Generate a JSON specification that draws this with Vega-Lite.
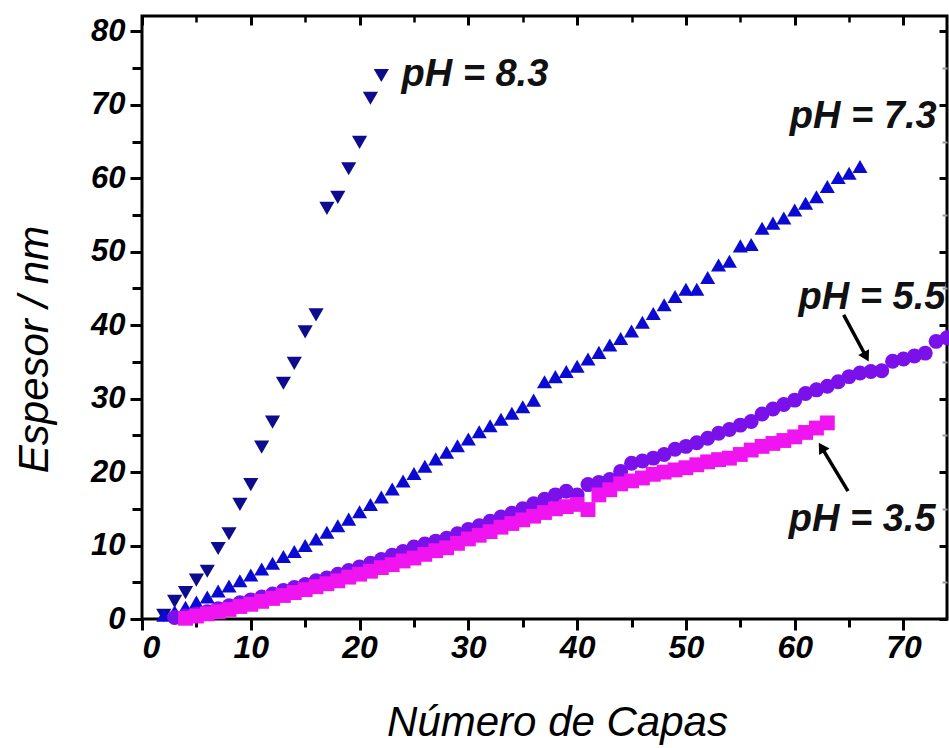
{
  "$schema": "https://vega.github.io/schema/vega-lite/v6.json",
  "autosize": "none",
  "width": 805,
  "height": 603,
  "padding": {"left": 142, "top": 16, "right": 2, "bottom": 129},
  "background": "white",
  "config": {"view": {"stroke": "black", "strokeWidth": 3}},
  "datasets": {
    "pts": [
      {"serie":"8.3","capas":2,"espesor":0.5},{"serie":"8.3","capas":3,"espesor":2.4},{"serie":"8.3","capas":4,"espesor":3.6},{"serie":"8.3","capas":5,"espesor":5.3},{"serie":"8.3","capas":6,"espesor":6.5},{"serie":"8.3","capas":7,"espesor":9.6},{"serie":"8.3","capas":8,"espesor":11.6},{"serie":"8.3","capas":9,"espesor":15.6},{"serie":"8.3","capas":10,"espesor":18.3},{"serie":"8.3","capas":11,"espesor":23.4},{"serie":"8.3","capas":12,"espesor":26.8},{"serie":"8.3","capas":13,"espesor":32.1},{"serie":"8.3","capas":14,"espesor":34.8},{"serie":"8.3","capas":15,"espesor":39.1},{"serie":"8.3","capas":16,"espesor":41.4},{"serie":"8.3","capas":17,"espesor":55.9},{"serie":"8.3","capas":18,"espesor":57.4},{"serie":"8.3","capas":19,"espesor":61.3},{"serie":"8.3","capas":20,"espesor":64.9},{"serie":"8.3","capas":21,"espesor":70.9},{"serie":"8.3","capas":22,"espesor":74.0},
      {"serie":"7.3","capas":2,"espesor":0.5},{"serie":"7.3","capas":3,"espesor":1.0},{"serie":"7.3","capas":4,"espesor":1.6},{"serie":"7.3","capas":5,"espesor":2.3},{"serie":"7.3","capas":6,"espesor":3.0},{"serie":"7.3","capas":7,"espesor":3.8},{"serie":"7.3","capas":8,"espesor":4.5},{"serie":"7.3","capas":9,"espesor":5.2},{"serie":"7.3","capas":10,"espesor":6.0},{"serie":"7.3","capas":11,"espesor":6.8},{"serie":"7.3","capas":12,"espesor":7.6},{"serie":"7.3","capas":13,"espesor":8.5},{"serie":"7.3","capas":14,"espesor":9.2},{"serie":"7.3","capas":15,"espesor":10.0},{"serie":"7.3","capas":16,"espesor":10.9},{"serie":"7.3","capas":17,"espesor":11.8},{"serie":"7.3","capas":18,"espesor":12.7},{"serie":"7.3","capas":19,"espesor":13.6},{"serie":"7.3","capas":20,"espesor":14.6},{"serie":"7.3","capas":21,"espesor":15.6},{"serie":"7.3","capas":22,"espesor":16.6},{"serie":"7.3","capas":23,"espesor":17.7},{"serie":"7.3","capas":24,"espesor":18.8},{"serie":"7.3","capas":25,"espesor":19.8},{"serie":"7.3","capas":26,"espesor":20.8},{"serie":"7.3","capas":27,"espesor":21.8},{"serie":"7.3","capas":28,"espesor":22.7},{"serie":"7.3","capas":29,"espesor":23.6},{"serie":"7.3","capas":30,"espesor":24.5},{"serie":"7.3","capas":31,"espesor":25.5},{"serie":"7.3","capas":32,"espesor":26.3},{"serie":"7.3","capas":33,"espesor":27.2},{"serie":"7.3","capas":34,"espesor":28.0},{"serie":"7.3","capas":35,"espesor":28.9},{"serie":"7.3","capas":36,"espesor":29.8},{"serie":"7.3","capas":37,"espesor":32.3},{"serie":"7.3","capas":38,"espesor":33.0},{"serie":"7.3","capas":39,"espesor":33.7},{"serie":"7.3","capas":40,"espesor":34.4},{"serie":"7.3","capas":41,"espesor":35.4},{"serie":"7.3","capas":42,"espesor":36.3},{"serie":"7.3","capas":43,"espesor":37.3},{"serie":"7.3","capas":44,"espesor":38.2},{"serie":"7.3","capas":45,"espesor":39.2},{"serie":"7.3","capas":46,"espesor":40.4},{"serie":"7.3","capas":47,"espesor":41.6},{"serie":"7.3","capas":48,"espesor":42.8},{"serie":"7.3","capas":49,"espesor":43.9},{"serie":"7.3","capas":50,"espesor":44.9},{"serie":"7.3","capas":51,"espesor":44.9},{"serie":"7.3","capas":52,"espesor":46.5},{"serie":"7.3","capas":53,"espesor":48.2},{"serie":"7.3","capas":54,"espesor":48.7},{"serie":"7.3","capas":55,"espesor":50.8},{"serie":"7.3","capas":56,"espesor":51.0},{"serie":"7.3","capas":57,"espesor":53.2},{"serie":"7.3","capas":58,"espesor":53.9},{"serie":"7.3","capas":59,"espesor":54.6},{"serie":"7.3","capas":60,"espesor":55.7},{"serie":"7.3","capas":61,"espesor":56.6},{"serie":"7.3","capas":62,"espesor":57.5},{"serie":"7.3","capas":63,"espesor":58.9},{"serie":"7.3","capas":64,"espesor":60.1},{"serie":"7.3","capas":65,"espesor":60.7},{"serie":"7.3","capas":66,"espesor":61.6},
      {"serie":"5.5","capas":3,"espesor":0.2},{"serie":"5.5","capas":4,"espesor":0.4},{"serie":"5.5","capas":5,"espesor":0.7},{"serie":"5.5","capas":6,"espesor":1.0},{"serie":"5.5","capas":7,"espesor":1.4},{"serie":"5.5","capas":8,"espesor":1.8},{"serie":"5.5","capas":9,"espesor":2.2},{"serie":"5.5","capas":10,"espesor":2.6},{"serie":"5.5","capas":11,"espesor":3.0},{"serie":"5.5","capas":12,"espesor":3.4},{"serie":"5.5","capas":13,"espesor":3.9},{"serie":"5.5","capas":14,"espesor":4.3},{"serie":"5.5","capas":15,"espesor":4.7},{"serie":"5.5","capas":16,"espesor":5.2},{"serie":"5.5","capas":17,"espesor":5.6},{"serie":"5.5","capas":18,"espesor":6.1},{"serie":"5.5","capas":19,"espesor":6.6},{"serie":"5.5","capas":20,"espesor":7.1},{"serie":"5.5","capas":21,"espesor":7.6},{"serie":"5.5","capas":22,"espesor":8.1},{"serie":"5.5","capas":23,"espesor":8.7},{"serie":"5.5","capas":24,"espesor":9.2},{"serie":"5.5","capas":25,"espesor":9.8},{"serie":"5.5","capas":26,"espesor":10.2},{"serie":"5.5","capas":27,"espesor":10.6},{"serie":"5.5","capas":28,"espesor":11.0},{"serie":"5.5","capas":29,"espesor":11.6},{"serie":"5.5","capas":30,"espesor":12.2},{"serie":"5.5","capas":31,"espesor":12.7},{"serie":"5.5","capas":32,"espesor":13.3},{"serie":"5.5","capas":33,"espesor":13.9},{"serie":"5.5","capas":34,"espesor":14.4},{"serie":"5.5","capas":35,"espesor":15.0},{"serie":"5.5","capas":36,"espesor":15.7},{"serie":"5.5","capas":37,"espesor":16.3},{"serie":"5.5","capas":38,"espesor":16.9},{"serie":"5.5","capas":39,"espesor":17.4},{"serie":"5.5","capas":40,"espesor":16.9},{"serie":"5.5","capas":41,"espesor":18.3},{"serie":"5.5","capas":42,"espesor":18.6},{"serie":"5.5","capas":43,"espesor":19.0},{"serie":"5.5","capas":44,"espesor":20.1},{"serie":"5.5","capas":45,"espesor":21.2},{"serie":"5.5","capas":46,"espesor":21.5},{"serie":"5.5","capas":47,"espesor":21.9},{"serie":"5.5","capas":48,"espesor":22.4},{"serie":"5.5","capas":49,"espesor":23.1},{"serie":"5.5","capas":50,"espesor":23.5},{"serie":"5.5","capas":51,"espesor":24.0},{"serie":"5.5","capas":52,"espesor":24.6},{"serie":"5.5","capas":53,"espesor":25.3},{"serie":"5.5","capas":54,"espesor":25.8},{"serie":"5.5","capas":55,"espesor":26.4},{"serie":"5.5","capas":56,"espesor":26.9},{"serie":"5.5","capas":57,"espesor":27.9},{"serie":"5.5","capas":58,"espesor":28.6},{"serie":"5.5","capas":59,"espesor":29.2},{"serie":"5.5","capas":60,"espesor":29.8},{"serie":"5.5","capas":61,"espesor":30.7},{"serie":"5.5","capas":62,"espesor":31.2},{"serie":"5.5","capas":63,"espesor":31.7},{"serie":"5.5","capas":64,"espesor":32.3},{"serie":"5.5","capas":65,"espesor":33.0},{"serie":"5.5","capas":66,"espesor":33.5},{"serie":"5.5","capas":67,"espesor":33.7},{"serie":"5.5","capas":68,"espesor":33.8},{"serie":"5.5","capas":69,"espesor":35.1},{"serie":"5.5","capas":70,"espesor":35.4},{"serie":"5.5","capas":71,"espesor":35.8},{"serie":"5.5","capas":72,"espesor":36.2},{"serie":"5.5","capas":73,"espesor":37.8},{"serie":"5.5","capas":74,"espesor":38.3},
      {"serie":"3.5","capas":4,"espesor":0.1},{"serie":"3.5","capas":5,"espesor":0.4},{"serie":"3.5","capas":6,"espesor":0.7},{"serie":"3.5","capas":7,"espesor":1.0},{"serie":"3.5","capas":8,"espesor":1.3},{"serie":"3.5","capas":9,"espesor":1.7},{"serie":"3.5","capas":10,"espesor":2.0},{"serie":"3.5","capas":11,"espesor":2.4},{"serie":"3.5","capas":12,"espesor":2.8},{"serie":"3.5","capas":13,"espesor":3.2},{"serie":"3.5","capas":14,"espesor":3.6},{"serie":"3.5","capas":15,"espesor":4.0},{"serie":"3.5","capas":16,"espesor":4.4},{"serie":"3.5","capas":17,"espesor":4.8},{"serie":"3.5","capas":18,"espesor":5.2},{"serie":"3.5","capas":19,"espesor":5.7},{"serie":"3.5","capas":20,"espesor":6.1},{"serie":"3.5","capas":21,"espesor":6.5},{"serie":"3.5","capas":22,"espesor":7.0},{"serie":"3.5","capas":23,"espesor":7.4},{"serie":"3.5","capas":24,"espesor":7.9},{"serie":"3.5","capas":25,"espesor":8.3},{"serie":"3.5","capas":26,"espesor":8.8},{"serie":"3.5","capas":27,"espesor":9.3},{"serie":"3.5","capas":28,"espesor":9.7},{"serie":"3.5","capas":29,"espesor":10.3},{"serie":"3.5","capas":30,"espesor":10.9},{"serie":"3.5","capas":31,"espesor":11.4},{"serie":"3.5","capas":32,"espesor":11.9},{"serie":"3.5","capas":33,"espesor":12.5},{"serie":"3.5","capas":34,"espesor":13.0},{"serie":"3.5","capas":35,"espesor":13.5},{"serie":"3.5","capas":36,"espesor":14.0},{"serie":"3.5","capas":37,"espesor":14.5},{"serie":"3.5","capas":38,"espesor":15.0},{"serie":"3.5","capas":39,"espesor":15.3},{"serie":"3.5","capas":40,"espesor":15.6},{"serie":"3.5","capas":41,"espesor":14.9},{"serie":"3.5","capas":42,"espesor":16.9},{"serie":"3.5","capas":43,"espesor":17.6},{"serie":"3.5","capas":44,"espesor":18.4},{"serie":"3.5","capas":45,"espesor":18.8},{"serie":"3.5","capas":46,"espesor":19.2},{"serie":"3.5","capas":47,"espesor":19.7},{"serie":"3.5","capas":48,"espesor":20.0},{"serie":"3.5","capas":49,"espesor":20.3},{"serie":"3.5","capas":50,"espesor":20.6},{"serie":"3.5","capas":51,"espesor":21.0},{"serie":"3.5","capas":52,"espesor":21.4},{"serie":"3.5","capas":53,"espesor":21.7},{"serie":"3.5","capas":54,"espesor":21.9},{"serie":"3.5","capas":55,"espesor":22.4},{"serie":"3.5","capas":56,"espesor":23.0},{"serie":"3.5","capas":57,"espesor":23.5},{"serie":"3.5","capas":58,"espesor":23.9},{"serie":"3.5","capas":59,"espesor":24.3},{"serie":"3.5","capas":60,"espesor":24.8},{"serie":"3.5","capas":61,"espesor":25.4},{"serie":"3.5","capas":62,"espesor":26.0},{"serie":"3.5","capas":63,"espesor":26.7}
    ],
    "labels": [
      {"label":"pH = 8.3","capas":30.6,"espesor":74.0},
      {"label":"pH = 7.3","capas":66.3,"espesor":68.4},
      {"label":"pH = 5.5","capas":67.1,"espesor":43.7},
      {"label":"pH = 3.5","capas":66.2,"espesor":13.5}
    ],
    "arrows": [
      {"serie":"5.5","capas":64.5,"espesor":41.4,"capas2":66.57,"espesor2":35.7},
      {"serie":"3.5","capas":64.9,"espesor":17.4,"capas2":62.47,"espesor2":23.37}
    ]
  },
  "layer": [
    {
      "data": {"name": "pts"},
      "mark": {"type": "point", "filled": true, "opacity": 1},
      "encoding": {
        "x": {"field": "capas", "type": "quantitative", "scale": {"domain": [0, 74], "nice": false, "zero": false},
          "axis": {"orient": "bottom", "values": [0,10,20,30,40,50,60,70], "tickSize": 11, "tickWidth": 3, "tickColor": "black", "domain": false, "grid": false,
            "labelFont": "Liberation Sans", "labelFontSize": 32, "labelFontWeight": "bold", "labelFontStyle": "italic", "labelColor": "black", "labelPadding": 2,
            "title": "Número de Capas", "titleFont": "Liberation Sans", "titleFontSize": 42, "titleFontWeight": "normal", "titleFontStyle": "italic", "titleColor": "black",
            "titleX": 415, "titleY": 116, "titleAlign": "center", "titleBaseline": "alphabetic"}},
        "y": {"field": "espesor", "type": "quantitative", "scale": {"domain": [0, 82.1], "nice": false, "zero": false},
          "axis": {"orient": "left", "values": [0,10,20,30,40,50,60,70,80], "tickSize": 12, "tickWidth": 3, "tickColor": "black", "domain": false, "grid": false,
            "labelFont": "Liberation Sans", "labelFontSize": 31, "labelFontWeight": "bold", "labelFontStyle": "italic", "labelColor": "black", "labelPadding": 5,
            "title": "Espesor / nm", "titleFont": "Liberation Sans", "titleFontSize": 42, "titleFontWeight": "normal", "titleFontStyle": "italic", "titleColor": "black",
            "titleX": -95, "titleY": 333, "titleAlign": "center", "titleBaseline": "alphabetic", "titleAngle": 270}},
        "shape": {"field": "serie", "type": "nominal", "legend": null,
          "scale": {"domain": ["8.3","7.3","5.5","3.5"], "range": ["triangle-down","triangle-up","circle","square"]}},
        "color": {"field": "serie", "type": "nominal", "legend": null,
          "scale": {"domain": ["8.3","7.3","5.5","3.5"], "range": ["#0c0c8c","#0a0ad2","#7a10ea","#f014f0"]}},
        "size": {"field": "serie", "type": "nominal", "legend": null,
          "scale": {"domain": ["8.3","7.3","5.5","3.5"], "range": [230,220,130,110]}}
      }
    },
    {
      "data": {"name": "labels"},
      "mark": {"type": "text", "font": "Liberation Sans", "fontSize": 38, "fontWeight": "bold", "fontStyle": "italic", "color": "#111111", "align": "center", "baseline": "middle"},
      "encoding": {
        "x": {"field": "capas", "type": "quantitative", "scale": {"domain": [0, 74], "nice": false, "zero": false},
          "axis": {"orient": "bottom", "values": [5,15,25,35,45,55,65], "tickSize": 8, "tickWidth": 3, "tickColor": "black", "domain": false, "grid": false, "labels": false, "title": null}},
        "y": {"field": "espesor", "type": "quantitative", "scale": {"domain": [0, 82.1], "nice": false, "zero": false},
          "axis": {"orient": "left", "values": [5,15,25,35,45,55,65,75], "tickSize": 10, "tickWidth": 3, "tickColor": "black", "domain": false, "grid": false, "labels": false, "title": null}},
        "text": {"field": "label", "type": "nominal"}
      }
    },
    {
      "data": {"name": "arrows"},
      "mark": {"type": "rule", "color": "black", "strokeWidth": 3.5},
      "encoding": {
        "x": {"field": "capas", "type": "quantitative", "scale": {"domain": [0, 74], "nice": false, "zero": false},
          "axis": {"orient": "top", "offset": -9, "values": [0,10,20,30,40,50,60,70], "tickSize": 9, "tickWidth": 3, "tickColor": "black", "domain": false, "grid": false, "labels": false, "title": null}},
        "y": {"field": "espesor", "type": "quantitative", "scale": {"domain": [0, 82.1], "nice": false, "zero": false},
          "axis": {"orient": "right", "offset": -8, "values": [0,10,20,30,40,50,60,70,80], "tickSize": 8, "tickWidth": 3, "tickColor": "black", "domain": false, "grid": false, "labels": false, "title": null}},
        "x2": {"field": "capas2"},
        "y2": {"field": "espesor2"}
      }
    },
    {
      "data": {"name": "arrows"},
      "transform": [{"filter": "datum.serie == '5.5'"}],
      "mark": {"type": "point", "shape": "triangle-up", "filled": true, "color": "black", "opacity": 1, "size": 150, "angle": 151.5},
      "encoding": {
        "x": {"field": "capas2", "type": "quantitative", "scale": {"domain": [0, 74], "nice": false, "zero": false},
          "axis": {"orient": "top", "offset": -6, "values": [5,15,25,35,45,55,65], "tickSize": 6, "tickWidth": 2.5, "tickColor": "black", "domain": false, "grid": false, "labels": false, "title": null}},
        "y": {"field": "espesor2", "type": "quantitative", "scale": {"domain": [0, 82.1], "nice": false, "zero": false},
          "axis": {"orient": "right", "offset": -5, "values": [5,15,25,35,45,55,65,75], "tickSize": 5, "tickWidth": 2, "tickColor": "#999999", "domain": false, "grid": false, "labels": false, "title": null}}
      }
    },
    {
      "data": {"name": "arrows"},
      "transform": [{"filter": "datum.serie == '3.5'"}],
      "mark": {"type": "point", "shape": "triangle-up", "filled": true, "color": "black", "opacity": 1, "size": 150, "angle": 328},
      "encoding": {
        "x": {"field": "capas2", "type": "quantitative", "scale": {"domain": [0, 74], "nice": false, "zero": false}, "axis": null},
        "y": {"field": "espesor2", "type": "quantitative", "scale": {"domain": [0, 82.1], "nice": false, "zero": false}, "axis": null}
      }
    }
  ],
  "resolve": {"axis": {"x": "independent", "y": "independent"}}
}
